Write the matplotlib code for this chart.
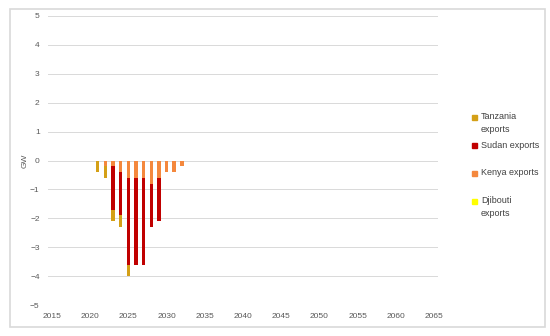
import matplotlib.pyplot as plt
from matplotlib.patches import Rectangle

# data (GW, exports are negative)
years = [2021, 2022, 2023, 2024, 2025, 2026, 2027, 2028, 2029, 2030, 2031, 2032]
kenya = [0.0, -0.2, -0.2, -0.4, -0.6, -0.6, -0.6, -0.8, -0.6, -0.4, -0.4, -0.2]
sudan = [0.0, 0.0, -1.5, -1.5, -3.0, -3.0, -3.0, -1.5, -1.5, 0.0, 0.0, 0.0]
tanzania = [-0.4, -0.4, -0.4, -0.4, -0.4, 0.0, 0.0, 0.0, 0.0, 0.0, 0.0, 0.0]
djibouti = [0.0] * 12

legend_labels = ["Tanzania\nexports", "Sudan exports", "Kenya exports", "Djibouti\nexports"]
colors = {"tanzania": "#D4A017", "sudan": "#C00000", "kenya": "#F4883D", "djibouti": "#FFFF00"}

plt.rcParams["font.family"] = ["Liberation Sans", "DejaVu Sans"]

fig = plt.figure(figsize=(5.5, 3.36), dpi=100)
ax = fig.add_axes([48 / 550, 1 - 305 / 336, 390 / 550, 289 / 336])

w = 0.45
ax.bar(years, kenya, width=w, color=colors["kenya"])
ax.bar(years, sudan, width=w, bottom=kenya, color=colors["sudan"])
base = [k + s for k, s in zip(kenya, sudan)]
ax.bar(years, tanzania, width=w, bottom=base, color=colors["tanzania"])
base2 = [b + t for b, t in zip(base, tanzania)]
ax.bar(years, djibouti, width=w, bottom=base2, color=colors["djibouti"])

ax.set_xlim(2014.5, 2065.5)
ax.set_ylim(-5, 5)
ax.set_yticks(range(-5, 6))
ax.set_xticks(range(2015, 2066, 5))
ax.grid(axis="y", color="#D9D9D9", linewidth=0.7)
ax.set_axisbelow(True)
for s in ax.spines.values():
    s.set_visible(False)
ax.tick_params(length=0, labelsize=6, colors="#595959", pad=6)
ax.set_ylabel("GW", fontsize=6, color="#595959", labelpad=1)

# outer frame
fig.patches.append(Rectangle((10 / 550, 1 - 327 / 336), 535 / 550, 318 / 336,
                             transform=fig.transFigure, fill=False,
                             edgecolor="#D9D9D9", linewidth=1.2))

# legend
leg_colors = [colors["tanzania"], colors["sudan"], colors["kenya"], colors["djibouti"]]
leg_y = [123, 145, 173, 207]
for lab, c, y in zip(legend_labels, leg_colors, leg_y):
    top_line = y - 6 if "\n" in lab else y
    fig.patches.append(Rectangle((472 / 550, 1 - (top_line + 2.5) / 336), 4.5 / 550, 4.5 / 336,
                                 transform=fig.transFigure, color=c))
    fig.text(481 / 550, 1 - y / 336, lab, fontsize=6.5, color="#404040",
             va="center", ha="left", linespacing=1.6)

plt.savefig("out.png", dpi=100)
